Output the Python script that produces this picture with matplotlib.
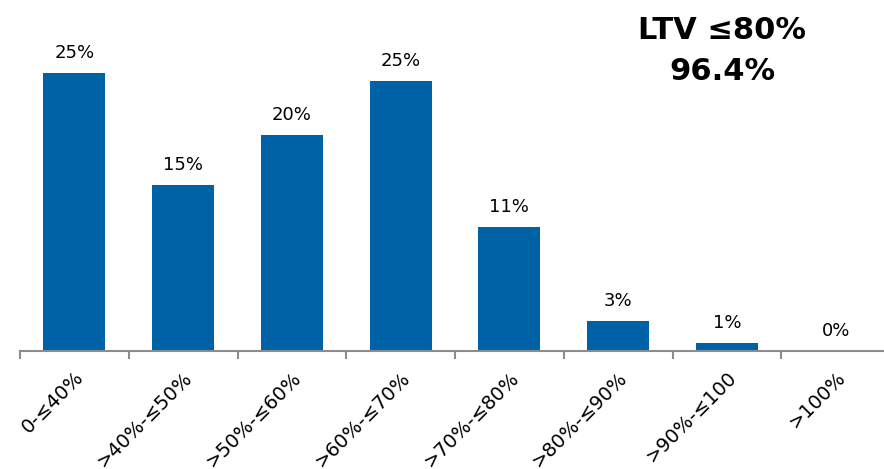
import numpy as np
import matplotlib
matplotlib.use("Agg")
import matplotlib.pyplot as plt

plt.rcParams['font.family'] = ['DejaVu Sans']

categories = ["0-\u226440%", ">40%-\u226450%", ">50%-\u226460%", ">60%-\u226470%",
              ">70%-\u226480%", ">80%-\u226490%", ">90%-\u2264100", ">100%"]
values = [25.3, 15.1, 19.6, 24.5, 11.3, 2.7, 0.7, 0.0]
labels = ["25%", "15%", "20%", "25%", "11%", "3%", "1%", "0%"]

fig = plt.figure(figsize=(8.84, 4.69), dpi=100)
ax = fig.add_axes([20 / 884, 1 - 351 / 469, 870 / 884, 351 / 469])

x = np.arange(len(categories))
ax.bar(x, values, width=0.57, color="#0062A6")
for xi, v, lab in zip(x, values, labels):
    ax.text(xi, v + 1.0, lab, ha="center", va="bottom", fontsize=13)

ax.set_xlim(-0.5, len(categories) - 0.5)
ax.set_ylim(0, 351 / 11)
for s in ["top", "right", "left"]:
    ax.spines[s].set_visible(False)
ax.spines["bottom"].set_color("#8c8c8c")
ax.spines["bottom"].set_linewidth(1.5)
ax.set_yticks([])

ax.set_xticks(x)
ax.set_xticklabels(categories, rotation=45, ha="right", rotation_mode="anchor", fontsize=14)
ax.tick_params(axis="x", which="major", length=0, pad=12)
ax.set_xticks(np.arange(len(categories)) - 0.5, minor=True)
ax.tick_params(axis="x", which="minor", length=6, width=1.5, color="#8c8c8c")

fig.text(722 / 884, 1 - 30 / 469, "LTV \u226480%", ha="center", va="center",
         fontsize=22, fontweight="bold")
fig.text(722 / 884, 1 - 72 / 469, "96.4%", ha="center", va="center",
         fontsize=22, fontweight="bold")

fig.savefig("out.png", dpi=100)
